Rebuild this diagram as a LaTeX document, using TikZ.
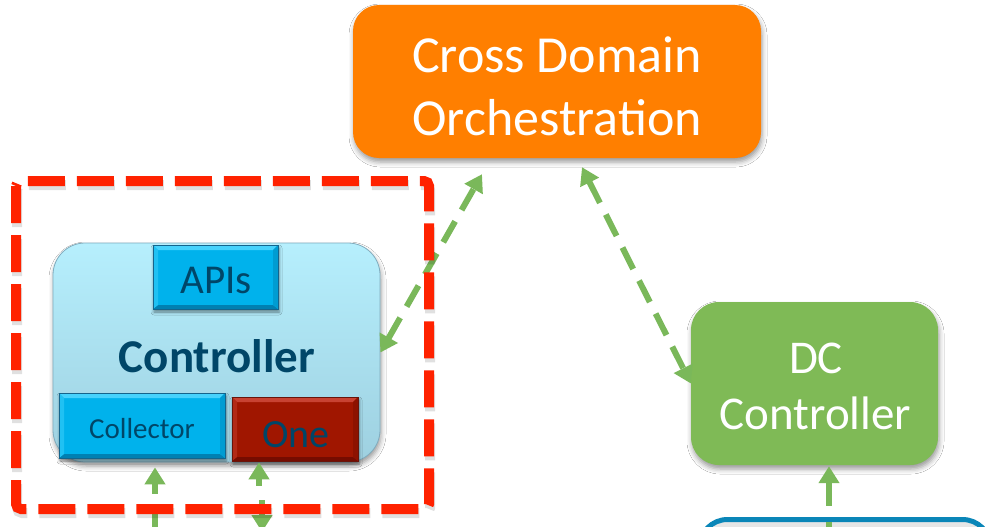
\documentclass[tikz,border=0pt]{standalone}
\usepackage{fontspec}
\setmainfont{Carlito}
\usetikzlibrary{arrows.meta,calc,shadows.blur}

\definecolor{orch}{RGB}{255,127,0}
\definecolor{dcgreen}{RGB}{127,186,86}
\definecolor{linkgreen}{RGB}{122,184,90}
\definecolor{scopered}{RGB}{255,34,0}
\definecolor{ctrltop}{RGB}{182,239,253}
\definecolor{ctrlbot}{RGB}{158,208,224}
\definecolor{ctrledge}{RGB}{128,172,190}
\definecolor{ctrltext}{RGB}{0,70,104}
\definecolor{apibase}{RGB}{0,178,236}
\definecolor{apilight}{RGB}{70,210,252}
\definecolor{apidark}{RGB}{0,128,178}
\definecolor{apiedge}{RGB}{20,100,140}
\definecolor{onebase}{RGB}{160,22,0}
\definecolor{onelight}{RGB}{200,66,50}
\definecolor{onedark}{RGB}{118,12,0}
\definecolor{oneedge}{RGB}{105,20,10}
\definecolor{netedge}{RGB}{10,134,184}
\definecolor{netfill}{RGB}{230,230,230}

\tikzset{
  softshadow/.style={blur shadow={shadow xshift=1pt,shadow yshift=-4pt,
      shadow blur radius=5pt,shadow opacity=40}},
  roundbox/.style={rectangle,inner sep=0pt,softshadow},
  % raised tile with light top edge and dark bottom edge
  tile/.style n args={4}{rectangle,inner sep=0pt,fill=#1,draw=#4,line width=0.8pt,
    blur shadow={shadow xshift=1pt,shadow yshift=-3pt,shadow blur radius=3pt,shadow opacity=45},
    path picture={
      \fill[#2] (path picture bounding box.north west) -- (path picture bounding box.north east)
        -- ([xshift=-5pt,yshift=-5pt]path picture bounding box.north east)
        -- ([xshift=5pt,yshift=-5pt]path picture bounding box.north west) -- cycle;
      \fill[#3] (path picture bounding box.south west) -- (path picture bounding box.south east)
        -- ([xshift=-5pt,yshift=4pt]path picture bounding box.south east)
        -- ([xshift=5pt,yshift=4pt]path picture bounding box.south west) -- cycle;
      \fill[#2!45!#1] (path picture bounding box.north west) -- (path picture bounding box.south west)
        -- ([xshift=5pt,yshift=4pt]path picture bounding box.south west)
        -- ([xshift=5pt,yshift=-5pt]path picture bounding box.north west) -- cycle;
      \fill[#3!45!#1] (path picture bounding box.north east) -- (path picture bounding box.south east)
        -- ([xshift=-5pt,yshift=4pt]path picture bounding box.south east)
        -- ([xshift=-5pt,yshift=-5pt]path picture bounding box.north east) -- cycle;
    }},
  tiptri/.tip={Triangle[length=17pt,width=20pt]},
  link/.style={draw=linkgreen,line width=6pt,dash pattern=on 24pt off 13pt},
  frameline/.style={line width=10pt,rounded corners=5pt,dash pattern=on 37pt off 12pt},
  label/.style={anchor=base,inner sep=0pt},
}

\begin{document}
\begin{tikzpicture}[x=1pt,y=-1pt]
\useasboundingbox (0,0) rectangle (998,527);
\clip (0,0) rectangle (998,527);
\fill[white] (0,0) rectangle (998,527);

% network box at the lower right, running past the bottom edge
\node[rectangle,inner sep=0pt,rounded corners=28pt,fill=netfill,draw=netedge,line width=5pt,
  minimum width=291pt,minimum height=90pt] (net) at (845,564.5) {};

% top level orchestrator
\node[roundbox,rounded corners=26pt,fill=orch,minimum width=408pt,minimum height=153pt]
  (orchbox) at (557,81.5) {};
\node[label,text=white,font=\fontsize{52}{60}\selectfont] (orchA) at (557,72) {Cross Domain};
\node[label,text=white,font=\fontsize{52}{60}\selectfont] (orchB) at (557,135) {Orchestration};

% data centre controller
\node[roundbox,rounded corners=28pt,fill=dcgreen,minimum width=247pt,minimum height=163pt]
  (dc) at (814.5,383.5) {};
\node[label,text=white,font=\fontsize{47}{56}\selectfont] (dcA) at (816,373) {DC};
\node[label,text=white,font=\fontsize{47}{56}\selectfont] (dcB) at (815.5,429) {Controller};

% controller with its parts
\node[roundbox,rounded corners=32pt,top color=ctrltop,bottom color=ctrlbot,draw=ctrledge,
  line width=0.8pt,minimum width=327pt,minimum height=219pt] (ctrl) at (216.5,352.5) {};
\node[label,text=ctrltext,font=\bfseries\fontsize{47}{56}\selectfont] (ctrlname) at (217,372) {Controller};
\node[tile={apibase}{apilight}{apidark}{apiedge},minimum width=125pt,minimum height=64pt]
  (api) at (215.5,277) {};
\node[label,text=ctrltext,font=\fontsize{41}{48}\selectfont] (apiname) at (216,293) {APIs};
\node[tile={apibase}{apilight}{apidark}{apiedge},minimum width=166pt,minimum height=65pt]
  (coll) at (142,425.5) {};
\node[label,text=ctrltext,font=\fontsize{29}{34}\selectfont] (collname) at (142,438) {Collector};
\node[tile={onebase}{onelight}{onedark}{oneedge},minimum width=126pt,minimum height=64pt]
  (one) at (295,429) {};
\node[label,text=ctrltext,font=\fontsize{40}{48}\selectfont] (onename) at (296,447) {One};

% free ends of the links leaving the picture
\coordinate (collfar) at (155,545);
\coordinate (onemid) at (259,486);
\coordinate (onedownA) at (262,500);
\coordinate (onedownB) at (262,532);
\coordinate (dcfar) at (829,545);

% links
\draw[link,{tiptri}-{tiptri}] (ctrl.east) -- ($(orchbox.south)+(-75,16)$);
\draw[link,{tiptri}-{tiptri}] ($(orchbox.south)+(25,9)$) -- (dc.west);
\draw[link,dash pattern=on 24pt off 16pt,{tiptri}-] ($(dc.south)+(14.5,1)$) -- (dcfar);
\draw[link,dash pattern=on 11pt off 20pt on 30pt off 10pt,{tiptri}-] ($(coll.south)+(13,9)$) -- (collfar);
\draw[link,solid,{tiptri}-] ($(one.south)+(-36,1)$) -- (onemid);
\draw[link,solid,-{tiptri}] (onedownA) -- (onedownB);

% dashed red frame round the controller, with a faint shadow under each dash
\draw[frameline,black,opacity=0.12,xshift=1pt,yshift=-4pt] (16,181) rectangle (429,509);
\draw[frameline,scopered] (16,181) rectangle (429,509);
\end{tikzpicture}
\end{document}
